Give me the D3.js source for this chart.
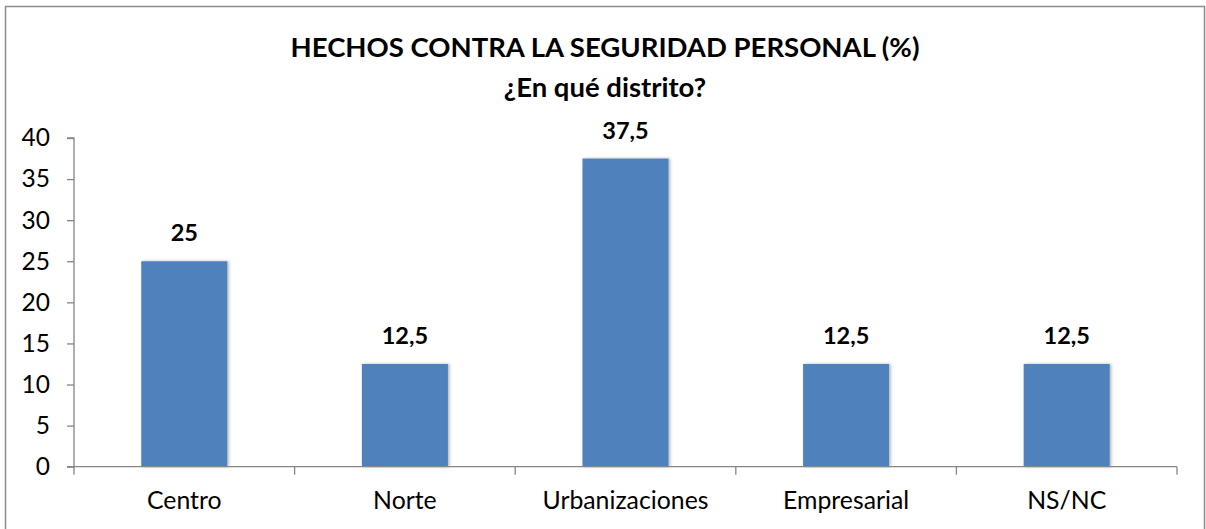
<!DOCTYPE html>
<html>
<head>
<meta charset="utf-8">
<script src="https://cdn.jsdelivr.net/npm/d3@7/dist/d3.min.js"></script>
<style>
  html, body { margin: 0; padding: 0; background: #fff; }
  svg { display: block; }
  text { font-family: Lato, "Open Sans", sans-serif; fill: #000; }
</style>
</head>
<body>
<svg id="chart" width="1206" height="529"></svg>
<script>
const categories = ["Centro", "Norte", "Urbanizaciones", "Empresarial", "NS/NC"];
const values = [25, 12.5, 37.5, 12.5, 12.5];
const valueLabels = ["25", "12,5", "37,5", "12,5", "12,5"];
const yTicks = [0, 5, 10, 15, 20, 25, 30, 35, 40];
const titleLines = ["HECHOS CONTRA LA SEGURIDAD PERSONAL (%)", "¿En qué distrito?"];

const svg = d3.select("#chart");

const defs = svg.append("defs");
const f = defs.append("filter").attr("id", "shadow").attr("x", "-20%").attr("y", "-5%").attr("width", "140%").attr("height", "110%");
f.append("feDropShadow").attr("dx", 1.5).attr("dy", 0).attr("stdDeviation", 1.6)
  .attr("flood-color", "#000").attr("flood-opacity", 0.3);

// frame
svg.append("rect").attr("x", 5.5).attr("y", 6.5).attr("width", 1199).attr("height", 540)
  .attr("fill", "#fff").attr("stroke", "#8c8c8c").attr("stroke-width", 1.5);

const x0 = 74, x1 = 1177, yBase = 466.7, yTop = 138;
const x = d3.scaleBand().domain(categories).range([x0, x1]).paddingInner(0.61).paddingOuter(0.305);
const y = d3.scaleLinear().domain([0, 40]).range([yBase, yTop]);

// title
svg.append("g").selectAll("text").data(titleLines).join("text")
  .attr("x", 605).attr("y", (d, i) => 56.5 + i * 40.5)
  .attr("text-anchor", "middle").attr("font-weight", "bold").attr("font-size", 27.5)
  .text(d => d);

// bars
svg.append("g").selectAll("rect").data(values).join("rect")
  .attr("x", (d, i) => x(categories[i]))
  .attr("y", d => y(d))
  .attr("width", x.bandwidth())
  .attr("height", d => yBase - y(d))
  .attr("fill", "#4f81bd")
  .attr("filter", "url(#shadow)");

// value labels
svg.append("g").selectAll("text").data(values).join("text")
  .attr("x", (d, i) => x(categories[i]) + x.bandwidth() / 2)
  .attr("y", d => y(d) - 20)
  .attr("text-anchor", "middle").attr("font-weight", "bold").attr("font-size", 23.5)
  .text((d, i) => valueLabels[i]);

// y axis
const yAxis = d3.axisLeft(y).tickValues(yTicks).tickSize(7).tickPadding(17).tickFormat(d3.format("d"));
const gy = svg.append("g").attr("transform", `translate(${x0},0)`).call(yAxis);
gy.select(".domain").attr("d", `M-7,${yTop}H0V${yBase}`);
gy.selectAll("line, path").attr("stroke", "#868686").attr("stroke-width", 1.3);
gy.selectAll("text").attr("font-size", 24.5).attr("font-family", "Lato, sans-serif").attr("fill", "#000");

// x axis
const gx = svg.append("g").attr("transform", `translate(0,${yBase})`);
gx.append("line").attr("x1", x0 - 7).attr("x2", x1).attr("y1", 0).attr("y2", 0)
  .attr("stroke", "#868686").attr("stroke-width", 1.3);
const boundaries = categories.map(c => x(c) - x.step() * x.paddingInner() / 2).concat([x1]);
gx.selectAll("line.tk").data(boundaries).join("line").attr("class", "tk")
  .attr("x1", d => d).attr("x2", d => d).attr("y1", 0).attr("y2", 8)
  .attr("stroke", "#868686").attr("stroke-width", 1.3);
gx.selectAll("text").data(categories).join("text")
  .attr("x", d => x(d) + x.bandwidth() / 2).attr("y", 509.3 - yBase)
  .attr("text-anchor", "middle").attr("font-size", 24.8)
  .text(d => d);
</script>
</body>
</html>
